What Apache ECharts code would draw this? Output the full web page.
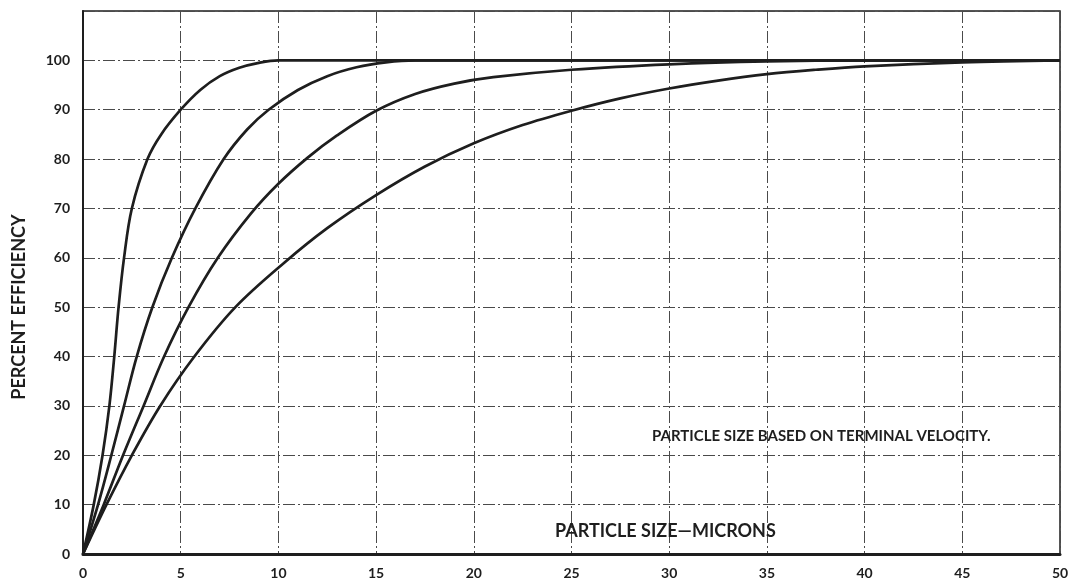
<!DOCTYPE html>
<html>
<head>
<meta charset="utf-8">
<title>Percent Efficiency vs Particle Size</title>
<script src="https://cdn.jsdelivr.net/npm/echarts@6/dist/echarts.min.js"></script>
<style>
  html, body { margin: 0; padding: 0; background: #fff; }
  #chart { width: 1074px; height: 582px; }
</style>
</head>
<body>
<div id="chart"></div>
<script>
// Efficiency curves: [particle size (microns), percent efficiency]
const curveA = [[0,0],[0.55,10],[1.0,20],[1.35,30],[1.6,40],[1.82,50],[2.1,60],[2.5,70],[3.3,80],[4.0,85],[5,90],[6,94],[7,96.8],[8,98.5],[9,99.5],[10,100],[12,100],[50,100]];
const curveB = [[0,0],[0.77,10],[1.45,20],[2.1,30],[2.75,40],[3.55,50],[4.55,60],[5.75,70],[7.2,80],[8.4,86],[9.5,90],[11,94],[12.5,96.8],[14,98.6],[15.5,99.6],[17,100],[20,100],[50,100]];
const curveC = [[0,0],[1.06,10],[2.05,20],[3.1,30],[4.15,40],[5.4,50],[6.9,60],[8.6,69],[10,75],[11.5,80.3],[13,84.8],[15,89.8],[17,93.2],[19,95.3],[21,96.6],[25,98.1],[30,99.2],[35,99.8],[40,100],[50,100]];
const curveD = [[0,0],[1.2,10],[2.5,20],[3.95,30],[5.7,40],[7.8,50],[10.3,59],[12.5,66],[15,72.7],[17.5,78.5],[20,83.2],[22.5,86.9],[25,89.8],[27.5,92.3],[30,94.3],[32.5,95.9],[35,97.2],[37.5,98.1],[40,98.8],[45,99.6],[50,100]];

const xTicks = { min: 0, max: 50, interval: 5 };
const yTicks = { min: 0, max: 110, interval: 10, labelMax: 100 };

const axisName = 'PERCENT EFFICIENCY';
const xTitle = 'PARTICLE SIZE\u2014MICRONS';
const note = 'PARTICLE SIZE BASED ON TERMINAL VELOCITY.';

const FONT = 'Lato, "DejaVu Sans", sans-serif';
const INK = '#1e1e1e';

const gridLine = {
  show: true,
  lineStyle: { color: '#4a4a4a', width: 1, type: [12, 3, 2, 3] }
};

const chart = echarts.init(document.getElementById('chart'), null, { renderer: 'canvas' });

const curve = (data) => ({
  type: 'line',
  data: data,
  smooth: 0.35,
  symbol: 'none',
  lineStyle: { color: INK, width: 2.7 },
  z: 5
});

chart.setOption({
  animation: false,
  backgroundColor: '#ffffff',
  grid: {
    left: 83, right: 14, top: 11, bottom: 28,
    show: true, borderColor: INK, borderWidth: 1.5, backgroundColor: 'transparent'
  },
  xAxis: {
    type: 'value',
    min: xTicks.min, max: xTicks.max, interval: xTicks.interval,
    axisLine: { show: true, onZero: false, lineStyle: { color: INK, width: 3 } },
    axisTick: { show: false },
    splitLine: gridLine,
    axisLabel: { color: INK, fontFamily: FONT, fontSize: 14, fontWeight: 'bold', margin: 12 }
  },
  yAxis: {
    type: 'value',
    min: yTicks.min, max: yTicks.max, interval: yTicks.interval,
    axisLine: { show: true, onZero: false, lineStyle: { color: INK, width: 2 } },
    axisTick: { show: false },
    splitLine: gridLine,
    axisLabel: {
      color: INK, fontFamily: FONT, fontSize: 14, fontWeight: 'bold', margin: 13,
      formatter: (v) => (v > yTicks.labelMax ? '' : String(v))
    }
  },
  graphic: [
    {
      type: 'text', x: 19, y: 307, rotation: Math.PI / 2, z: 10,
      style: { text: axisName, fill: INK, font: 'bold 18px ' + FONT, align: 'center', verticalAlign: 'middle' }
    },
    {
      type: 'text', left: 555, top: 522, z: 10,
      style: { text: xTitle, fill: INK, font: 'bold 18px ' + FONT }
    },
    {
      type: 'text', left: 652, top: 429, z: 10,
      style: { text: note, fill: INK, font: 'bold 15px ' + FONT }
    }
  ],
  series: [curve(curveA), curve(curveB), curve(curveC), curve(curveD)]
});
</script>
</body>
</html>
